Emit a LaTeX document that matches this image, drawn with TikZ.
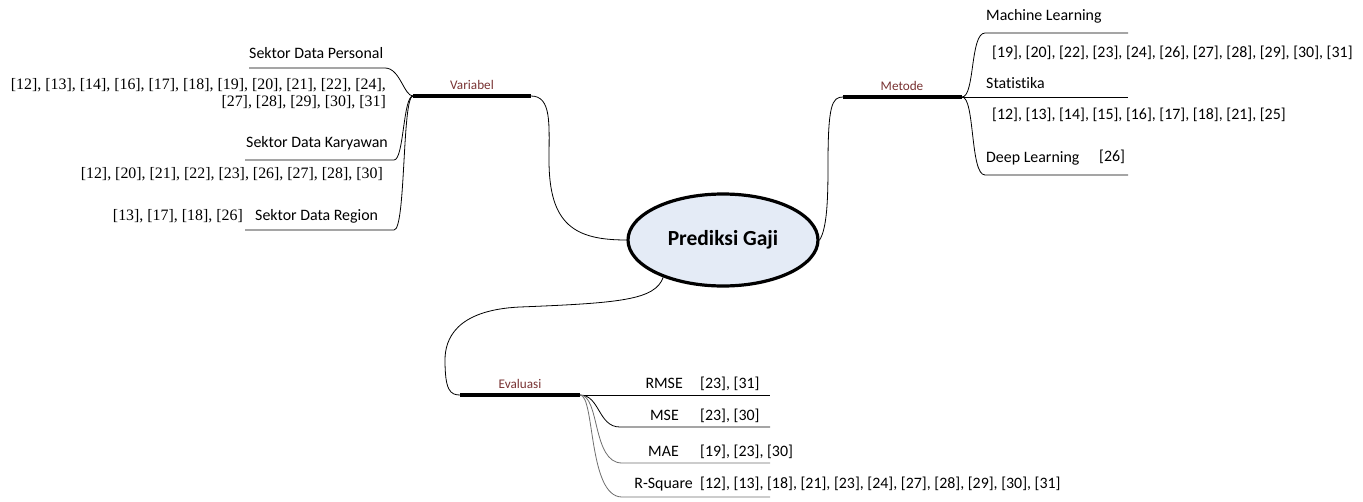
\documentclass[tikz,border=0pt]{standalone}
\usepackage{fontspec}
\setmainfont{Carlito}[Ligatures=CommonOff]
\newfontfamily\citefont{Liberation Serif}
\usetikzlibrary{shapes.geometric}
\definecolor{barlabel}{RGB}{120,50,50}
\definecolor{hubfill}{RGB}{228,235,246}
\definecolor{lightline}{RGB}{110,110,110}
\tikzset{
  lbl/.style={inner sep=0pt, font=\fontsize{15.9}{18}\selectfont},
  cite/.style={inner sep=0pt, font=\citefont\fontsize{15.9}{17}\selectfont},
  barname/.style={inner sep=0pt, text=barlabel, font=\fontsize{13.2}{15}\selectfont},
  bar/.style={line width=3.2pt},
  conn/.style={line width=0.8pt},
  hub/.style={ellipse, draw, line width=3.2pt, fill=hubfill, minimum width=190pt, minimum height=92pt, font=\bfseries\fontsize{21.5}{24}\selectfont}
}
\begin{document}
\begin{tikzpicture}[x=1pt,y=-1pt]
\useasboundingbox (0,0) rectangle (1363,501);
% hub
\node[hub] (hub) at (723,240) {Prediksi Gaji};

% ---- Variabel ----
\coordinate (vL) at (413,96);
\coordinate (vR) at (531,96);
\draw[bar] (vL) -- (vR);
\node[barname, anchor=base] (vname) at (472,89) {Variabel};
\draw[conn] (vR) .. controls (552,96) and (549,125) .. (549,160) .. controls (549,225) and (575,240) .. (hub.west);

\coordinate (p1) at (249,68);
\coordinate (p2) at (385,68);
\draw[conn] (p1) -- (p2) .. controls (400,68) and (404,96) .. (vL);
\node[lbl, anchor=base west] (pers) at (249,58) {Sektor Data Personal};
\node[cite, anchor=north east, align=right] (perscite) at (386,78) {[12], [13], [14], [16], [17], [18], [19], [20], [21], [22], [24],\\{}[27], [28], [29], [30], [31]};

\coordinate (k1) at (245,160);
\coordinate (k2) at (394,160);
\draw[conn] (k1) -- (k2) .. controls (404,160) and (403,96) .. (vL);
\node[lbl, anchor=base west] (kary) at (246,147) {Sektor Data Karyawan};
\node[cite, anchor=base east] (karycite) at (383,178) {[12], [20], [21], [22], [23], [26], [27], [28], [30]};

\coordinate (r1) at (245,230);
\coordinate (r2) at (394,230);
\draw[conn] (r1) -- (r2) .. controls (406,230) and (402,96) .. (vL);
\node[lbl, anchor=base west] (reg) at (255,220) {Sektor Data Region};
\node[cite, anchor=base east] (regcite) at (243,220) {[13], [17], [18], [26]};

% ---- Metode ----
\coordinate (mL) at (843,97);
\coordinate (mR) at (962,97);
\draw[bar] (mL) -- (mR);
\node[barname, anchor=base] (mname) at (902,90) {Metode};
\draw[conn] (hub.east) .. controls (827,228) and (828,200) .. (828,165) .. controls (828,105) and (832,97) .. (mL);

\coordinate (ml1) at (985,33);
\coordinate (ml2) at (1128,33);
\draw[conn] (mR) .. controls (975,97) and (970,33) .. (ml1) -- (ml2);
\node[lbl, anchor=base west] (ml) at (986,20) {Machine Learning};
\node[lbl, anchor=base west] (mlcite) at (992,57) {[19], [20], [22], [23], [24], [26], [27], [28], [29], [30], [31]};

\coordinate (st2) at (1128,97);
\draw[conn] (mR) -- (st2);
\node[lbl, anchor=base west] (st) at (986,88) {Statistika};
\node[lbl, anchor=base west] (stcite) at (992,119) {[12], [13], [14], [15], [16], [17], [18], [21], [25]};

\coordinate (dl1) at (985,175);
\coordinate (dl2) at (1128,175);
\draw[conn] (mR) .. controls (975,97) and (970,175) .. (dl1) -- (dl2);
\node[lbl, anchor=base west] (dl) at (986,162) {Deep Learning};
\node[lbl, anchor=base west] (dlcite) at (1099,161) {[26]};

% ---- Evaluasi ----
\coordinate (eL) at (460,395);
\coordinate (eR) at (580,395);
\draw[bar] (eL) -- (eR);
\node[barname, anchor=base] (ename) at (520,388) {Evaluasi};
\draw[conn] (hub.212) .. controls (655,300) and (620,303) .. (520,307) .. controls (455,310) and (445,340) .. (445,360) .. controls (445,390) and (450,395) .. (eL);

\coordinate (rm2) at (770,395);
\draw[conn] (eR) -- (rm2);
\node[lbl, anchor=base east] (rmse) at (683,388) {RMSE};
\node[lbl, anchor=base west] (rmsecite) at (700,388) {[23], [31]};

\coordinate (ms1) at (620,427);
\coordinate (ms2) at (770,427);
\draw[conn] (eR) .. controls (600,395) and (598,427) .. (ms1) -- (ms2);
\node[lbl, anchor=base east] (mse) at (679,420) {MSE};
\node[lbl, anchor=base west] (msecite) at (700,420) {[23], [30]};

\coordinate (ma1) at (622,463);
\coordinate (ma2) at (770,463);
\draw[conn, lightline] (eR) .. controls (600,395) and (592,463) .. (ma1) -- (ma2);
\node[lbl, anchor=base east] (mae) at (679,456) {MAE};
\node[lbl, anchor=base west] (maecite) at (700,456) {[19], [23], [30]};

\coordinate (rs1) at (622,497);
\coordinate (rs2) at (770,497);
\draw[conn, lightline] (eR) .. controls (595,395) and (588,497) .. (rs1) -- (rs2);
\node[lbl, anchor=base east] (rsq) at (693,488) {R-Square};
\node[lbl, anchor=base west] (rsqcite) at (700,488) {[12], [13], [18], [21], [23], [24], [27], [28], [29], [30], [31]};
\end{tikzpicture}
\end{document}
